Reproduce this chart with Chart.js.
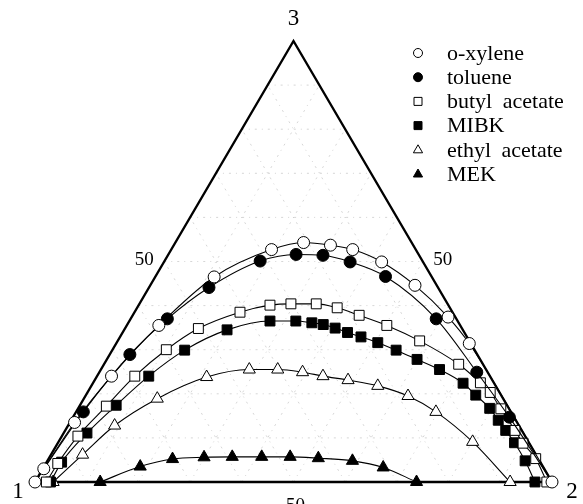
<!DOCTYPE html>
<html>
<head>
<meta charset="utf-8">
<script src="https://cdn.jsdelivr.net/npm/chart.js@4/dist/chart.umd.min.js"></script>
<style>
  html, body { margin: 0; padding: 0; background: #fff; }
  #wrap { width: 583px; height: 504px; position: relative; }
</style>
</head>
<body>
<div id="wrap"><canvas id="c" width="583" height="504"></canvas></div>
<script>
// Ternary compositions, in percent of component 2 (c2) and component 3 (c3);
// component 1 is the remainder.
const vertexLabels = ['1', '2', '3'];
const tickValues = [50];
const tickLabels = ['50'];
const gridSteps = [10, 20, 30, 40, 50, 60, 70, 80, 90];

const seriesNames = ['o-xylene', 'toluene', 'butyl acetate', 'MIBK', 'ethyl acetate', 'MEK'];

const oXyleneC2 = [0, 0.2, 0.9, 2.8, 6.2, 11.4, 19.4, 24.8, 30.3, 35.1, 42.1, 51.2, 61.2, 68.3, 100];
const oXyleneC3 = [0, 3.0, 13.5, 24.0, 35.5, 46.5, 52.7, 54.3, 53.7, 52.7, 49.9, 44.6, 37.4, 31.4, 0];

const tolueneC2 = [0, 1.4, 3.9, 7.1, 11.6, 18.5, 24.7, 30.0, 36.0, 44.5, 59.1, 73.0, 84.4, 100];
const tolueneC3 = [0, 15.9, 28.9, 37.0, 44.1, 50.1, 51.6, 51.4, 49.9, 46.6, 37.0, 24.9, 14.7, 0];

const butylAcetateC2 = [2.2, 2.3, 3.1, 5.2, 7.3, 10.4, 14.2, 20.4, 25.4, 29.3, 34.2, 38.7, 43.8, 50.3, 58.4, 68.6, 74.9, 77.9, 81.8, 87.0, 90.0, 94.2, 99.0];
const butylAcetateC3 = [0, 4.2, 10.4, 17.2, 24.0, 30.0, 34.8, 38.5, 40.1, 40.4, 40.4, 39.5, 37.8, 35.5, 32.0, 26.7, 22.5, 20.3, 16.6, 11.7, 8.8, 5.3, 0];

const mibkC2 = [3.0, 2.9, 4.5, 7.0, 10.0, 14.0, 19.9, 27.2, 32.2, 35.5, 37.9, 40.6, 43.5, 46.6, 50.5, 54.9, 60.0, 65.5, 71.6, 75.4, 79.6, 82.6, 85.2, 88.3, 92.4, 96.7];
const mibkC3 = [0, 4.5, 11.1, 17.4, 24.0, 29.9, 34.5, 36.5, 36.5, 36.1, 35.7, 34.9, 33.9, 32.9, 31.6, 29.9, 27.8, 25.5, 22.4, 19.7, 16.7, 14.0, 11.7, 8.9, 4.8, 0];

const ethylAcetateC2 = [3.5, 6.1, 9.0, 14.2, 21.3, 28.7, 34.2, 39.3, 43.7, 49.0, 55.4, 62.4, 69.6, 80.1, 91.9];
const ethylAcetateC3 = [0, 6.2, 12.8, 18.9, 23.8, 25.5, 25.5, 24.9, 24.0, 23.1, 21.8, 19.5, 15.9, 9.1, 0];

const mekC2 = [12.6, 18.6, 24.0, 29.9, 35.3, 41.0, 46.5, 52.1, 59.0, 65.7, 73.8];
const mekC3 = [0, 3.5, 5.2, 5.6, 5.7, 5.7, 5.7, 5.4, 4.8, 3.3, 0];

// Ternary (c2, c3) in percent -> cartesian position on a unit-base triangle.
function tern(c2, c3) {
  return { x: (c2 + c3 / 2) / 100, y: c3 / 100 };
}
function toPoints(c2s, c3s) {
  return c2s.map((v, i) => tern(v, c3s[i]));
}

const markerDefs = [
  { style: 'circle', fill: '#fff', r: 6 },
  { style: 'circle', fill: '#000', r: 6 },
  { style: 'rect', fill: '#fff', r: 7 },
  { style: 'rect', fill: '#000', r: 7 },
  { style: 'triangle', fill: '#fff', r: 7 },
  { style: 'triangle', fill: '#000', r: 7 }
];
const seriesData = [
  toPoints(oXyleneC2, oXyleneC3),
  toPoints(tolueneC2, tolueneC3),
  toPoints(butylAcetateC2, butylAcetateC3),
  toPoints(mibkC2, mibkC3),
  toPoints(ethylAcetateC2, ethylAcetateC3),
  toPoints(mekC2, mekC3)
];

const datasets = seriesNames.map((name, i) => {
  const m = markerDefs[i];
  const n = seriesData[i].length;
  return {
    label: name,
    data: seriesData[i],
    showLine: true,
    borderColor: '#000',
    borderWidth: 1.1,
    cubicInterpolationMode: 'monotone',
    pointStyle: m.style,
    pointBackgroundColor: m.fill,
    pointBorderColor: '#000',
    pointBorderWidth: 1,
    // the toluene curve runs into the corners without a marker there
    pointRadius: (ctx) => (i === 1 && (ctx.dataIndex === 0 || ctx.dataIndex === n - 1)) ? 0 : m.r,
    pointHoverRadius: m.r,
    clip: false
  };
});

const SERIF = '"Liberation Serif", "Times New Roman", serif';

const ternaryFrame = {
  id: 'ternaryFrame',
  beforeDatasetsDraw(chart) {
    const { ctx, scales } = chart;
    const px = (p) => [scales.x.getPixelForValue(p.x), scales.y.getPixelForValue(p.y)];
    const seg = (a, b) => {
      const A = px(a), B = px(b);
      ctx.beginPath(); ctx.moveTo(A[0], A[1]); ctx.lineTo(B[0], B[1]); ctx.stroke();
    };
    ctx.save();
    ctx.strokeStyle = '#c4c4c4';
    ctx.lineWidth = 0.7;
    ctx.setLineDash([2, 5, 1, 5]);
    gridSteps.forEach((k) => {
      seg(tern(0, k), tern(100 - k, k));          // constant component 3
      seg(tern(k, 0), tern(k, 100 - k));          // constant component 2
      seg(tern(100 - k, 0), tern(0, 100 - k));    // constant component 1
    });
    ctx.setLineDash([]);
    ctx.strokeStyle = '#000';
    ctx.lineWidth = 2.4;
    ctx.lineJoin = 'miter';
    const v = [tern(0, 0), tern(100, 0), tern(0, 100)].map(px);
    ctx.beginPath();
    ctx.moveTo(v[0][0], v[0][1]);
    ctx.lineTo(v[1][0], v[1][1]);
    ctx.lineTo(v[2][0], v[2][1]);
    ctx.closePath();
    ctx.stroke();
    ctx.restore();
  },
  afterDraw(chart) {
    const { ctx, scales } = chart;
    const px = (p) => [scales.x.getPixelForValue(p.x), scales.y.getPixelForValue(p.y)];
    ctx.save();
    ctx.fillStyle = '#000';
    ctx.textAlign = 'center';
    ctx.textBaseline = 'middle';

    // corner labels
    ctx.font = '23px ' + SERIF;
    const corners = [tern(0, 0), tern(100, 0), tern(0, 100)].map(px);
    const cornerOffsets = [[-17, 10], [20, 10], [0, -22]];
    corners.forEach((c, i) => {
      ctx.fillText(vertexLabels[i], c[0] + cornerOffsets[i][0], c[1] + cornerOffsets[i][1]);
    });

    // 50 % marks on each side
    ctx.font = '19px ' + SERIF;
    tickValues.forEach((t, j) => {
      const left = px(tern(0, t));
      const right = px(tern(100 - t, t));
      const bottom = px(tern(t, 0));
      ctx.fillText(tickLabels[j], left[0] - 20, left[1] - 1);
      ctx.fillText(tickLabels[j], right[0] + 20, right[1] - 1);
      ctx.fillText(tickLabels[j], bottom[0] + 2, bottom[1] + 24);
    });

    // legend
    ctx.textAlign = 'left';
    ctx.font = '22px ' + SERIF;
    if ('wordSpacing' in ctx) ctx.wordSpacing = '5px';
    const lx = 418, ly = 53, step = 24.2;
    seriesNames.forEach((name, i) => {
      const y = ly + i * step;
      const m = markerDefs[i];
      ctx.fillStyle = m.fill;
      ctx.strokeStyle = '#000';
      ctx.lineWidth = 1;
      ctx.beginPath();
      if (m.style === 'circle') {
        ctx.arc(lx, y, 4.5, 0, Math.PI * 2);
      } else if (m.style === 'rect') {
        ctx.rect(lx - 4, y - 4, 8, 8);
      } else {
        ctx.moveTo(lx, y - 5);
        ctx.lineTo(lx + 4.6, y + 3);
        ctx.lineTo(lx - 4.6, y + 3);
        ctx.closePath();
      }
      ctx.fill();
      ctx.stroke();
      ctx.fillStyle = '#000';
      ctx.fillText(name, lx + 29, y + 1);
    });
    ctx.restore();
  }
};

new Chart(document.getElementById('c'), {
  type: 'scatter',
  data: { datasets },
  options: {
    responsive: false,
    animation: false,
    layout: { padding: { left: 35, right: 31, top: 41, bottom: 22 } },
    scales: {
      x: { type: 'linear', min: 0, max: 1, display: false },
      y: { type: 'linear', min: 0, max: 1, display: false }
    },
    plugins: { legend: { display: false }, tooltip: { enabled: false } }
  },
  plugins: [ternaryFrame]
});
</script>
</body>
</html>
